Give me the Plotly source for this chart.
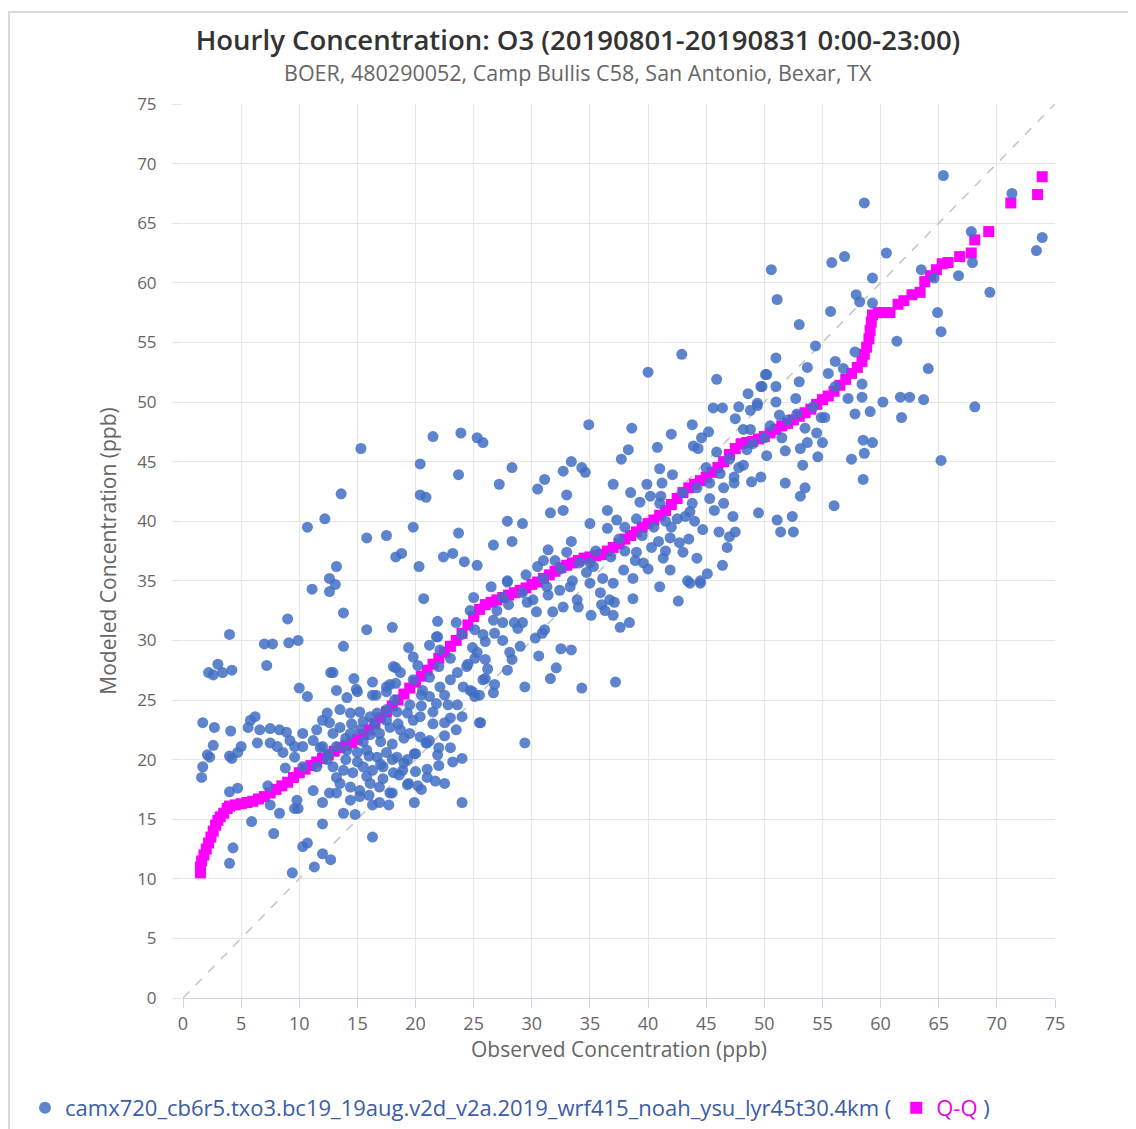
import plotly.graph_objects as go

# ---------------- data (ppb) ----------------
# low-left region (obs 0-13)
obs_low = [4.0, 2.2, 2.6, 3.0, 3.4, 4.2, 7.2, 7.0, 7.7, 9.1, 9.9, 9.0, 1.7, 2.7, 4.1, 2.6, 2.1, 2.3, 1.7, 1.6,
           4.0, 4.2, 5.0, 4.7, 5.8, 6.2, 5.6, 6.6, 7.5, 6.4, 8.3, 8.9, 7.5, 8.1, 8.6, 9.2, 9.6, 9.6, 8.8, 4.0,
           4.7, 7.3, 7.5, 5.9, 8.3, 9.6, 9.9, 4.3, 4.0, 7.8, 10.3, 10.7, 9.4, 11.3, 12.0, 12.7, 12.0, 10.0, 10.7,
           10.3, 11.5, 12.0, 12.4, 11.2, 10.3, 12.0, 12.9, 11.5, 12.4, 10.3, 11.2, 12.6, 13.2, 12.0, 9.8]
mod_low = [30.5, 27.3, 27.1, 28.0, 27.3, 27.5, 27.9, 29.7, 29.7, 29.8, 30.0, 31.8, 23.1, 22.7, 22.4, 21.2, 20.4, 20.2, 19.4, 18.5,
           20.3, 20.1, 21.1, 20.6, 23.3, 23.6, 22.7, 22.5, 22.6, 21.4, 22.5, 22.3, 21.4, 21.1, 20.6, 21.6, 21.1, 20.2, 19.3, 17.3,
           17.6, 17.8, 16.2, 14.8, 15.5, 15.9, 15.9, 12.6, 11.3, 13.8, 12.7, 13.0, 10.5, 11.0, 12.1, 11.6, 14.6, 26.0, 25.3,
           22.2, 22.5, 23.3, 23.9, 21.6, 21.1, 21.1, 22.2, 19.4, 20.0, 19.4, 17.4, 17.2, 18.5, 16.4, 16.6]

# upper-left region (obs 10-26, model 25-48)
obs_upl = [15.3, 21.5, 23.9, 20.4, 23.7, 13.6, 20.4, 20.9, 12.2, 10.7, 15.8, 17.5, 19.8, 23.7, 18.3, 18.8, 20.3, 22.4,
           23.2, 24.2, 13.2, 12.6, 13.1, 12.6, 11.1, 20.7, 13.8, 15.8, 18.0, 21.9, 23.5, 13.8, 12.7, 14.7, 16.3, 13.2,
           14.9, 19.4, 19.8, 20.2, 21.9, 24.7, 18.3, 18.7, 17.5, 18.3, 16.6, 21.2, 21.8, 22.1, 12.9, 18.1, 23.0, 23.6,
           24.4, 24.1, 24.9, 25.8, 21.2, 22.1, 22.5, 19.8, 20.6, 21.2, 21.8, 17.8, 18.2]
mod_upl = [46.1, 47.1, 47.4, 44.8, 43.9, 42.3, 42.2, 42.0, 40.2, 39.5, 38.6, 38.8, 39.5, 39.0, 37.0, 37.3, 36.2, 37.0,
           37.3, 36.6, 36.2, 35.2, 34.7, 34.1, 34.3, 33.5, 32.3, 30.9, 31.1, 31.6, 31.5, 29.5, 27.3, 26.8, 26.5, 25.8,
           25.9, 29.4, 28.6, 27.9, 30.3, 32.5, 27.7, 27.3, 26.1, 26.4, 25.4, 29.6, 30.3, 29.2, 27.3, 27.8, 26.7, 27.3,
           27.8, 26.1, 25.7, 26.7, 26.9, 26.1, 25.4, 26.7, 25.8, 25.3, 24.7, 26.3, 25.0]

# dense core (obs 12-25, model 13-26)
obs_core = [14.1, 15.0, 16.3, 17.5, 22.8, 23.6, 24.0, 25.5,
            13.5, 14.4, 15.2, 16.1, 16.7, 17.5, 18.4, 19.3, 19.8, 20.4,
            12.6, 13.5, 14.4, 15.2, 16.1, 16.9, 17.8, 18.7, 19.5, 20.4, 21.2,
            21.0, 19.9, 21.9, 24.0, 20.9,
            13.2, 14.1, 15.0, 15.8, 16.7, 17.5, 18.4, 19.3,
            12.9, 13.8, 14.6, 15.5, 16.3, 17.2, 18.1, 18.9,
            13.5, 14.4, 15.2, 16.1, 16.9, 17.8, 19.4,
            16.9, 16.3, 17.7, 19.9, 24.0, 13.2, 14.4, 15.2, 18.0, 19.3, 13.8, 14.8, 16.3,
            20.5, 21.5, 22.5, 23.0, 17.0, 18.0, 19.0, 15.5, 14.0, 20.0, 21.0, 22.0, 23.0, 16.0, 12.5, 11.8, 20.5, 22.5,
            14.5, 15.5, 16.5, 17.5, 18.5, 19.5, 20.5, 21.5, 22.5, 23.5,
            14.0, 15.0, 16.0, 17.0, 18.0, 19.0, 20.0, 21.0, 22.0,
            15.8, 17.2, 18.6, 20.2, 21.7, 23.2]
mod_core = [25.2, 25.7, 25.4, 25.7, 24.6, 24.6, 23.6, 23.1,
            24.2, 23.9, 24.0, 23.6, 23.9, 24.2, 24.0, 23.9, 23.3, 23.6,
            23.1, 22.7, 22.2, 22.5, 22.1, 22.2, 22.7, 22.5, 22.2, 21.9, 21.6,
            21.4, 20.5, 20.4, 20.1, 21.4,
            21.1, 20.8, 20.6, 20.8, 20.2, 20.6, 20.2, 20.0,
            19.4, 19.1, 18.9, 19.4, 19.1, 19.4, 18.9, 19.1,
            18.0, 17.7, 17.4, 18.0, 17.7, 17.2, 18.0,
            16.4, 16.2, 16.2, 16.4, 16.4, 17.2, 16.6, 16.9, 17.2, 17.9, 15.5, 15.4, 13.5,
            24.5, 23.0, 22.0, 23.5, 21.5, 21.3, 21.8, 21.5, 21.8, 19.0, 18.5, 19.5, 21.0, 17.0, 20.5, 21.0, 17.5, 18.0,
            23.0, 23.2, 22.9, 23.3, 23.0, 24.6, 25.4, 24.0, 23.1, 22.5,
            20.0, 19.8, 20.3, 19.6, 20.0, 19.7, 20.5, 19.2, 21.0,
            18.6, 18.4, 18.7, 17.8, 18.2, 19.8]

# middle region (obs 24-50)
obs_mid = [42.9, 40.0, 45.9, 50.1, 49.7, 48.6, 49.4, 47.8, 45.6, 46.4, 48.8, 47.5, 43.8, 48.2, 48.8, 45.2, 42.0, 44.6,
           43.9, 44.3, 40.8, 45.9, 38.6, 34.9, 25.3, 25.8, 38.3, 37.7, 28.3, 33.4, 34.3, 34.6, 32.7, 31.1, 30.5, 27.2,
           37.0, 41.0, 42.1, 41.2, 39.9, 38.5, 40.2, 41.1, 33.0, 39.3, 43.0, 45.3, 47.4, 48.9, 49.7, 48.2, 47.4, 46.5,
           45.3, 45.7, 46.5, 47.3, 49.5, 43.6, 43.2, 32.7, 31.6, 36.5, 37.3, 36.5, 35.0, 38.0, 27.9, 29.2, 28.3, 26.7,
           25.3, 33.4, 31.4, 31.0, 30.5, 32.0, 33.0, 34.1, 34.7, 35.3, 36.1, 37.0, 37.9, 38.7, 38.9, 39.6, 39.0, 40.3,
           40.9, 41.9, 42.7, 43.5, 44.7, 46.1, 47.0, 47.5, 46.8, 46.4, 44.2, 43.0, 41.3, 41.9, 43.4, 44.5, 45.1, 41.0,
           42.6, 38.7, 27.9, 27.5, 25.0, 29.2, 31.3, 32.4, 33.3, 33.9, 35.0, 35.9, 36.7]
mod_mid = [54.0, 52.5, 51.9, 52.3, 51.3, 50.7, 49.9, 49.6, 49.5, 49.5, 49.3, 48.6, 48.1, 47.7, 47.7, 47.5, 47.3, 47.0,
           46.3, 46.1, 46.2, 45.8, 47.8, 48.1, 47.0, 46.6, 46.0, 45.2, 44.5, 45.0, 44.5, 44.1, 44.2, 43.5, 42.7, 43.1,
           43.1, 44.4, 43.9, 43.2, 43.1, 42.4, 42.1, 42.1, 42.2, 41.6, 42.4, 43.2, 43.2, 43.3, 43.7, 44.7, 43.7, 42.8,
           41.9, 40.9, 41.5, 40.4, 40.7, 40.8, 40.4, 40.9, 40.7, 40.9, 40.1, 39.4, 39.8, 39.5, 40.0, 39.8, 38.3, 38.0,
           36.3, 38.3, 37.6, 36.7, 36.2, 36.7, 37.4, 36.5, 35.7, 36.2, 35.2, 34.8, 35.9, 35.2, 36.7, 36.5, 37.4, 37.8,
           38.3, 38.6, 38.2, 38.5, 39.3, 39.1, 38.7, 39.1, 37.8, 36.3, 36.9, 37.4, 36.9, 35.9, 35.0, 35.0, 35.6, 34.5,
           33.3, 33.5, 35.0, 33.6, 33.6, 34.0, 34.5, 34.2, 34.5, 33.4, 34.8, 34.0, 33.4]

# band below the middle (obs 24-45, model 21-35)
obs_band = [43.6, 44.5, 37.1, 36.3, 37.0, 35.1, 38.4, 37.6, 31.8, 32.7, 30.4, 30.1, 31.4, 29.6, 31.1, 30.9, 30.3,
            29.2, 28.5, 27.5, 28.8, 26.8, 26.7, 26.0, 25.8, 25.1, 24.9, 25.3, 26.0, 25.1, 28.1, 28.3, 27.9, 26.2,
            26.0, 26.8, 26.7, 25.5, 25.1, 24.7, 29.4, 30.6, 32.5, 33.4, 32.1, 31.6, 34.3, 37.2, 25.6, 29.4, 27.9,
            29.5, 31.0, 32.5, 33.5, 35.5, 36.8, 38.0, 39.5, 40.5, 41.5, 42.5, 43.8, 44.2, 45.0, 46.2, 47.0, 47.8,
            48.5, 39.0, 41.0, 37.5, 35.0, 42.0, 44.0, 40.0, 41.5, 36.0, 34.0, 27.0, 26.5, 28.0, 24.0, 23.0, 22.0,
            24.5, 27.5, 29.0]
mod_band = [34.8, 34.8, 33.2, 32.5, 32.1, 32.1, 31.5, 31.1, 32.4, 32.8, 32.4, 33.4, 33.8, 33.2, 30.9, 30.6, 30.2,
            31.5, 31.5, 31.5, 31.0, 30.6, 31.7, 29.9, 30.5, 30.9, 29.4, 29.0, 28.4, 28.5, 29.0, 28.4, 27.5, 27.6,
            26.8, 26.3, 25.6, 25.4, 25.3, 25.8, 26.1, 28.7, 29.3, 29.2, 27.7, 26.8, 26.0, 26.5, 23.1, 21.4, 34.9,
            35.5, 35.2, 36.0, 35.0, 37.5, 37.0, 37.5, 38.8, 39.5, 40.0, 40.2, 41.5, 42.8, 44.5, 44.0, 45.2, 44.5,
            46.0, 40.2, 41.5, 38.5, 36.5, 39.5, 40.0, 36.0, 37.5, 33.0, 32.8, 32.5, 34.5, 33.0, 30.5, 28.5, 27.8,
            28.0, 30.0, 29.5]

# high region (obs 49-74)
obs_high = [65.4, 58.6, 73.9, 73.4, 71.3, 67.8, 60.5, 56.9, 55.8, 50.6, 67.9, 66.7, 63.5, 64.6, 59.3, 69.4, 51.1,
            57.9, 58.2, 59.3, 55.7, 64.9, 65.2, 53.0, 61.4, 54.4, 51.0, 57.8, 56.1, 53.7, 56.8, 50.2, 55.5, 64.1,
            49.8, 51.0, 53.0, 56.1, 58.4, 52.7, 51.0, 49.4, 57.2, 58.4, 60.2, 61.7, 62.5, 63.7, 68.1, 51.3, 55.2,
            57.8, 59.1, 61.8, 54.2, 54.9, 54.5, 53.5, 55.0, 53.7, 53.1, 51.8, 54.6, 53.3, 58.5, 59.3, 58.6, 57.5,
            65.2, 58.5, 51.8, 53.5, 53.1, 56.0, 51.1, 52.4, 51.4, 52.5, 50.0, 50.5, 51.5, 52.0, 49.0, 50.2, 52.8]
mod_high = [69.0, 66.7, 63.8, 62.7, 67.5, 64.3, 62.5, 62.2, 61.7, 61.1, 61.7, 60.6, 61.1, 60.4, 60.4, 59.2, 58.6,
            59.0, 58.4, 58.3, 57.6, 57.5, 55.9, 56.5, 55.1, 54.7, 53.7, 54.2, 53.4, 52.9, 52.8, 52.3, 52.4, 52.8,
            51.3, 51.3, 51.7, 51.3, 51.5, 50.3, 50.0, 49.7, 50.3, 50.4, 50.0, 50.4, 50.4, 50.2, 49.6, 48.9, 48.7,
            49.0, 49.2, 48.7, 49.6, 48.7, 47.4, 47.8, 46.6, 46.6, 46.1, 45.9, 45.4, 44.7, 46.8, 46.6, 45.7, 45.2,
            45.1, 43.5, 43.2, 42.8, 42.1, 41.3, 40.1, 40.4, 39.1, 39.1, 47.0, 48.0, 47.0, 48.5, 46.5, 45.5, 49.0]

# Q-Q curve (sorted observed vs sorted modeled), read along the magenta squares
qq_obs = [1.5, 1.5, 1.6, 1.8, 2.0, 2.2, 2.4, 2.6, 2.8, 3.0, 3.2, 3.5, 3.8, 4.0, 4.5, 5.0, 5.5, 6.0, 6.5, 7.0,
          7.5, 8.0, 8.5, 9.0, 9.5, 10.0, 10.5, 11.0, 11.5, 12.0, 12.5, 13.0, 13.5, 14.0, 14.5, 15.0, 15.5, 16.0,
          16.5, 17.0, 17.5, 18.0, 18.5, 19.0, 19.5, 20.0, 20.5, 21.0, 21.5, 22.0, 22.5, 23.0, 23.5, 24.0, 24.5,
          25.0, 25.5, 26.0, 26.5, 27.0, 27.5, 28.0, 28.5, 29.0, 29.5, 30.0, 30.5, 31.0, 31.5, 32.0, 32.5, 33.0,
          33.5, 34.0, 34.5, 35.0, 35.5, 36.0, 36.5, 37.0, 37.5, 38.0, 38.5, 39.0, 39.5, 40.0, 40.5, 41.0, 41.5,
          42.0, 42.5, 43.0, 43.5, 44.0, 44.5, 45.0, 45.5, 46.0, 46.5, 47.0, 47.5, 48.0, 48.5, 49.0, 49.5, 50.0,
          50.5, 51.0, 51.5, 52.0, 52.5, 53.0, 53.5, 54.0, 54.5, 55.0, 55.5, 56.0, 56.5, 57.0, 57.5, 58.0, 58.4,
          58.6, 58.8, 59.0, 59.1, 59.2, 59.3, 59.8, 60.3, 60.8, 61.5, 62.0, 62.7, 63.4, 63.8, 64.3, 64.8, 65.3,
          65.8, 66.8, 67.8, 68.1, 69.3, 71.2, 73.5, 73.9]
qq_mod = [10.5, 11.0, 11.5, 12.0, 12.5, 13.0, 13.5, 14.0, 14.5, 14.9, 15.2, 15.5, 15.9, 16.1, 16.2, 16.3, 16.4,
          16.5, 16.7, 16.9, 17.2, 17.5, 17.8, 18.1, 18.5, 18.9, 19.2, 19.5, 19.8, 20.1, 20.4, 20.7, 21.0, 21.2,
          21.4, 21.7, 22.1, 22.5, 23.0, 23.5, 24.0, 24.5, 25.0, 25.5, 26.0, 26.5, 27.0, 27.5, 28.0, 28.5, 29.0,
          29.5, 30.0, 30.6, 31.3, 32.0, 32.6, 33.0, 33.2, 33.4, 33.6, 33.8, 34.0, 34.2, 34.4, 34.7, 34.9, 35.2,
          35.5, 35.8, 36.1, 36.3, 36.5, 36.7, 36.9, 37.0, 37.1, 37.2, 37.5, 37.8, 38.1, 38.5, 38.8, 39.1, 39.5,
          39.8, 40.1, 40.5, 40.9, 41.4, 41.9, 42.4, 42.8, 43.1, 43.4, 43.7, 44.1, 44.5, 45.0, 45.6, 46.1, 46.5,
          46.6, 46.7, 46.9, 47.1, 47.4, 47.7, 48.0, 48.2, 48.5, 48.8, 49.1, 49.4, 49.8, 50.2, 50.5, 50.9, 51.4,
          51.9, 52.4, 52.9, 53.4, 54.0, 54.6, 55.3, 56.0, 56.7, 57.3, 57.5, 57.5, 57.5, 58.2, 58.5, 59.0, 59.2,
          60.1, 60.6, 61.1, 61.6, 61.7, 62.2, 62.5, 63.6, 64.3, 66.7, 67.4, 68.9]

axis_range = [0, 75]
ref_line = [0, 75]

title_text = "Hourly Concentration: O3 (20190801-20190831 0:00-23:00)"
subtitle_text = "BOER, 480290052, Camp Bullis C58, San Antonio, Bexar, TX"
series_name = "camx720_cb6r5.txo3.bc19_19aug.v2d_v2a.2019_wrf415_noah_ysu_lyr45t30.4km ("
qq_name = "<span style='color:#e800e8'>Q-Q</span> )"

obs = obs_low + obs_upl + obs_core + obs_mid + obs_band + obs_high
mod = mod_low + mod_upl + mod_core + mod_mid + mod_band + mod_high

FONT = "Open Sans"
W, H = 1128, 1121  # page body adds an 8px offset


def px(page_x):
    return (page_x - 183) / 872


def py(page_y):
    return (998 - page_y) / 894


fig = go.Figure()
fig.add_trace(go.Scatter(x=ref_line, y=ref_line, mode="lines",
                         line=dict(color="#c4c4c4", width=1.5, dash="dash"),
                         showlegend=False, hoverinfo="skip"))
fig.add_trace(go.Scatter(x=qq_obs, y=qq_mod, mode="markers", name=qq_name,
                         marker=dict(symbol="square", size=11, color="#ff00ff", line=dict(width=0)),
                         legendrank=2))
fig.add_trace(go.Scatter(x=obs, y=mod, mode="markers", name=series_name,
                         marker=dict(symbol="circle", size=11, color="rgba(66,110,196,0.85)", line=dict(width=0)),
                         legendrank=1))

fig.update_layout(
    width=W, height=H,
    margin=dict(l=175, r=81, t=96, b=131, autoexpand=False),
    paper_bgcolor="white", plot_bgcolor="white",
    font=dict(family=FONT, color="#666666"),
    title=dict(text=title_text, x=(578 - 8) / W, xanchor="center", xref="container",
               y=1 - (40 - 8) / H, yanchor="middle", yref="container",
               font=dict(family=FONT, size=27.5, color="#333333", weight=600)),
    annotations=[dict(text=subtitle_text, xref="paper", yref="paper",
                      x=px(578), y=py(73), xanchor="center", yanchor="middle",
                      showarrow=False, font=dict(family=FONT, size=21.5, color="#666666"))],
    showlegend=True,
    legend=dict(orientation="h", xref="paper", yref="paper",
                x=px(25), y=py(1108), xanchor="left", yanchor="middle",
                font=dict(family=FONT, size=22, color="#3b5ca8"), bgcolor="rgba(0,0,0,0)",
                itemsizing="constant", tracegroupgap=0),
    shapes=[dict(type="rect", xref="paper", yref="paper",
                 x0=px(9), x1=px(1142), y0=py(1140), y1=py(12),
                 line=dict(color="#d8d8d8", width=2), layer="below")],
)
fig.update_xaxes(range=axis_range, dtick=5, tick0=0, showgrid=True, gridcolor="#e6e6e6", gridwidth=1,
                 zeroline=False, showline=True, linecolor="#ccd6eb", linewidth=1, automargin=False,
                 ticks="outside", ticklen=9, tickcolor="#ccd6eb",
                 tickfont=dict(size=18, color="#666666"),
                 title=dict(text="Observed Concentration (ppb)", font=dict(size=21, color="#666666"), standoff=4))
fig.update_yaxes(range=axis_range, dtick=5, tick0=0, showgrid=True, gridcolor="#e6e6e6", gridwidth=1,
                 zeroline=False, showline=False, automargin=False,
                 ticks="outside", ticklen=10, tickcolor="#e6e6e6",
                 ticklabelstandoff=12,
                 tickfont=dict(size=17, color="#666666"),
                 title=dict(text="Modeled Concentration (ppb)", font=dict(size=21, color="#666666"), standoff=14))

fig.write_html("out.html")
